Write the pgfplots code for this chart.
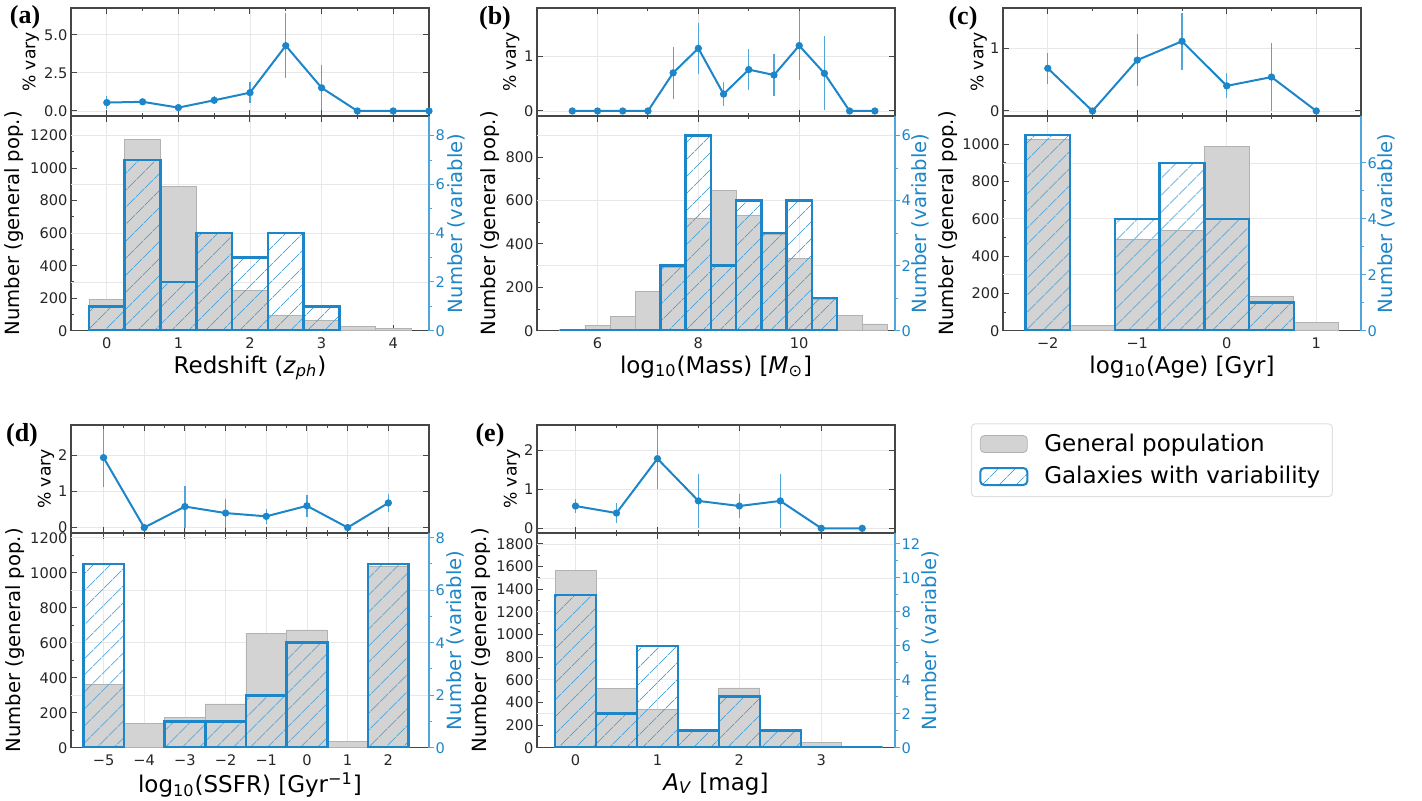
\documentclass[border=0pt]{standalone}
\usepackage{fontspec}
\setmainfont{DejaVu Sans}
\newfontfamily\panelfont{Liberation Serif}
\usepackage{pgfplots}
\pgfplotsset{compat=1.18}
\usetikzlibrary{patterns.meta}
\definecolor{vblue}{RGB}{28,134,200}
\definecolor{vbluelt}{RGB}{80,165,218}
\definecolor{gfill}{RGB}{211,211,211}
\definecolor{gedge}{RGB}{178,178,178}
\definecolor{framec}{RGB}{70,70,70}
\definecolor{gridc}{RGB}{232,232,232}

\pgfplotsset{
  base/.style={
    scale only axis, width=179pt,
    axis line style={framec, line width=0.6pt},
    tick style={framec, line width=0.5pt},
    major tick length=3pt, minor tick length=1.7pt,
    tick align=inside,
    /pgf/number format/assume math mode=true,
    /pgf/number format/1000 sep={},
    tick label style={font=\fontsize{7.3}{8}\selectfont, text=black!85},
    yticklabel style={inner xsep=1.6pt},
    grid style={gridc, line width=0.4pt},
    xmajorgrids,
    minor x tick num=1,
  },
  toppanel/.style={base, height=54pt, xticklabels={}, ymajorgrids,
    ylabel={\% vary},
    ylabel style={font=\fontsize{8.6}{10}\selectfont, at={(axis description cs:#1,0.5)}, anchor=center},
  },
  botleft/.style={base, height=107.35pt, ymin=0, ytick pos=left,
    minor y tick num=1,
    ylabel={Number (general pop.)},
    ylabel style={font=\fontsize{9.8}{11}\selectfont, at={(axis description cs:#1,0.5)}, anchor=center},
    xlabel style={font=\fontsize{11.5}{13}\selectfont, yshift=3.5pt},
    extra y tick labels={},
    extra y tick style={grid=major, major tick length=0pt},
  },
  botright/.style={scale only axis, width=179pt, height=107.35pt,
    axis x line=none, axis y line*=right, ymin=0,
    y axis line style={vbluelt, line width=0.6pt},
    ytick style={vbluelt, line width=0.5pt},
    tick align=outside, major tick length=2.5pt, minor tick length=1.5pt,
    minor y tick num=1,
    /pgf/number format/assume math mode=true,
    yticklabel style={font=\fontsize{7.3}{8}\selectfont, text=vblue, inner xsep=0.6pt},
    ylabel={Number (variable)},
    ylabel style={font=\fontsize{9.8}{11}\selectfont, text=vblue, at={(axis description cs:#1,0.5)}, anchor=center},
  },
  vline/.style={vblue, line width=1pt, mark=*, mark size=1.3pt,
    mark options={fill=vblue, draw=vblue, solid},
    error bars/.cd, y dir=both, y explicit, error mark=none,
    error bar style={vbluelt, line width=0.6pt}},
  gbar/.style={ybar, bar shift=0pt, fill=gfill, draw=gedge, line width=0.4pt},
  hbar/.style={ybar, bar shift=0pt, draw=vblue, line width=1.3pt,
    pattern={Lines[angle=45,distance=6.5pt,line width=0.45pt]},
    pattern color=vbluelt},
}

\begin{document}
\begin{tikzpicture}

% ================= (a) =================
\begin{axis}[toppanel=-0.112, at={(35.5pt,342pt)}, anchor=south west,
  xmin=-0.5, xmax=4.5, ymin=-0.33, ymax=6.75,
  xtick={0,1,2,3,4}, ytick={0,2.5,5}, yticklabels={0.0,2.5,5.0}]
\addplot[vline] coordinates {
 (0,0.55) +- (0,0.45) (0.5,0.6) +- (0,0.12) (1,0.22) +- (0,0.1)
 (1.5,0.7) +- (0,0.25) (2,1.2) +- (0,0.7) (2.5,4.28) +- (0,2.15)
 (3,1.52) +- (0,1.48) (3.5,0) +- (0,0) (4,0) +- (0,0) (4.5,0) +- (0,0)};
\end{axis}
\begin{axis}[botleft=-0.159, at={(35.5pt,234.65pt)}, anchor=south west,
  xmin=-0.5, xmax=4.5, ymax=1321,
  xtick={0,1,2,3,4}, ytick={0,200,...,1200},
  extra y ticks={300,600,900,1200},
  xlabel={Redshift (\textit{z}\textsubscript{\textit{ph}})}]
\addplot[gbar, bar width=0.5] coordinates {
 (0,190) (0.5,1175) (1,890) (1.5,600) (2,250) (2.5,95) (3,65) (3.5,25) (4,15)};
\end{axis}
\begin{axis}[botright=1.077, at={(35.5pt,234.65pt)}, anchor=south west,
  xmin=-0.5, xmax=4.5, ymax=8.807, ytick={0,2,4,6,8}]
\addplot[hbar, bar width=0.5] coordinates {
 (0,1) (0.5,7) (1,2) (1.5,4) (2,3) (2.5,4) (3,1)};
\end{axis}

% ================= (b) =================
\begin{axis}[toppanel=-0.072, at={(268.5pt,342pt)}, anchor=south west,
  xmin=4.8, xmax=11.9, ymin=-0.092, ymax=1.89,
  xtick={6,8,10}, ytick={0,1}]
\addplot[vline] coordinates {
 (5.5,0) +- (0,0) (6,0) +- (0,0) (6.5,0) +- (0,0) (7,0) +- (0,0)
 (7.5,0.7) +- (0,0.48) (8,1.15) +- (0,0.47) (8.5,0.31) +- (0,0.22)
 (9,0.76) +- (0,0.38) (9.5,0.66) +- (0,0.38) (10,1.2) +- (0,0.63)
 (10.5,0.69) +- (0,0.68) (11,0) +- (0,0) (11.5,0) +- (0,0)};
\end{axis}
\begin{axis}[botleft=-0.13, at={(268.5pt,234.65pt)}, anchor=south west,
  xmin=4.8, xmax=11.9, ymax=990,
  xtick={6,8,10}, ytick={0,200,...,800},
  extra y ticks={300,600,900},
  xlabel={log\textsubscript{10}(Mass) [\textit{M}\textsubscript{⊙}]}]
\addplot[gbar, bar width=0.5] coordinates {
 (5.5,3) (6,26) (6.5,65) (7,183) (7.5,290) (8,520) (8.5,645) (9,530)
 (9.5,445) (10,334) (10.5,143) (11,69) (11.5,31)};
\end{axis}
\begin{axis}[botright=1.071, at={(268.5pt,234.65pt)}, anchor=south west,
  xmin=4.8, xmax=11.9, ymax=6.6, ytick={0,2,4,6}]
\addplot[hbar, bar width=0.5] coordinates {
 (5.5,0) (6,0) (6.5,0) (7,0) (7.5,2) (8,6) (8.5,2) (9,4) (9.5,3) (10,4) (10.5,1)};
\end{axis}

% ================= (c) =================
\begin{axis}[toppanel=-0.068, at={(501.5pt,342pt)}, anchor=south west,
  xmin=-2.5, xmax=1.5, ymin=-0.08, ymax=1.64,
  xtick={-2,-1,0,1}, ytick={0,1}]
\addplot[vline] coordinates {
 (-2,0.68) +- (0,0.25) (-1.5,0) +- (0,0) (-1,0.81) +- (0,0.41)
 (-0.5,1.11) +- (0,0.45) (0,0.40) +- (0,0.2) (0.5,0.54) +- (0,0.54) (1,0) +- (0,0)};
\end{axis}
\begin{axis}[botleft=-0.153, at={(501.5pt,234.65pt)}, anchor=south west,
  xmin=-2.5, xmax=1.5, ymax=1152,
  xtick={-2,-1,0,1}, xticklabels={−2,−1,0,1}, ytick={0,200,...,1000},
  extra y ticks={300,600,900},
  xlabel={log\textsubscript{10}(Age) [Gyr]}]
\addplot[gbar, bar width=0.5] coordinates {
 (-2,1025) (-1.5,30) (-1,490) (-0.5,540) (0,988) (0.5,186) (1,43)};
\end{axis}
\begin{axis}[botright=1.071, at={(501.5pt,234.65pt)}, anchor=south west,
  xmin=-2.5, xmax=1.5, ymax=7.68, ytick={0,2,4,6}]
\addplot[hbar, bar width=0.5] coordinates {
 (-2,7) (-1,4) (-0.5,6) (0,4) (0.5,1)};
\end{axis}

% ================= (d) =================
\begin{axis}[toppanel=-0.07, at={(35.5pt,133.5pt)}, anchor=south west,
  xmin=-5.8, xmax=3.0, ymin=-0.15, ymax=2.83,
  xtick={-5,...,2}, ytick={0,1,2}]
\addplot[vline] coordinates {
 (-5,1.93) +- (0,0.8) (-4,0) +- (0,0) (-3,0.58) +- (0,0.58)
 (-2,0.4) +- (0,0.4) (-1,0.31) +- (0,0.21) (0,0.6) +- (0,0.3)
 (1,0) +- (0,0) (2,0.68) +- (0,0.24)};
\end{axis}
\begin{axis}[botleft=-0.156, at={(35.5pt,26.15pt)}, anchor=south west,
  xmin=-5.8, xmax=3.0, ymax=1227,
  xtick={-5,...,2}, xticklabels={−5,−4,−3,−2,−1,0,1,2}, ytick={0,200,...,1200},
  extra y ticks={300,600,900,1200},
  xlabel={log\textsubscript{10}(SSFR) [Gyr\textsuperscript{−1}]}]
\addplot[gbar, bar width=1] coordinates {
 (-5,364) (-4,139) (-3,173) (-2,250) (-1,654) (0,673) (1,34) (2,1034)};
\end{axis}
\begin{axis}[botright=1.075, at={(35.5pt,26.15pt)}, anchor=south west,
  xmin=-5.8, xmax=3.0, ymax=8.18, ytick={0,2,4,6,8}]
\addplot[hbar, bar width=1] coordinates {
 (-5,7) (-3,1) (-2,1) (-1,2) (0,4) (2,7)};
\end{axis}

% ================= (e) =================
\begin{axis}[toppanel=-0.07, at={(268.5pt,133.5pt)}, anchor=south west,
  xmin=-0.47, xmax=3.9, ymin=-0.12, ymax=2.64,
  xtick={0,1,2,3}, ytick={0,1,2}]
\addplot[vline] coordinates {
 (0,0.57) +- (0,0.18) (0.5,0.39) +- (0,0.26) (1,1.78) +- (0,0.77)
 (1.5,0.7) +- (0,0.68) (2,0.57) +- (0,0.31) (2.5,0.7) +- (0,0.69)
 (3,0) +- (0,0) (3.5,0) +- (0,0)};
\end{axis}
\begin{axis}[botleft=-0.155, at={(268.5pt,26.15pt)}, anchor=south west,
  xmin=-0.47, xmax=3.9, ymax=1897,
  xtick={0,1,2,3}, ytick={0,200,...,1800},
  extra y ticks={300,600,...,1800},
  xlabel={\textit{A}\textsubscript{\textit{V}} [mag]}]
\addplot[gbar, bar width=0.5] coordinates {
 (0,1565) (0.5,520) (1,337) (1.5,143) (2,528) (2.5,143) (3,50) (3.5,4)};
\end{axis}
\begin{axis}[botright=1.1, at={(268.5pt,26.15pt)}, anchor=south west,
  xmin=-0.47, xmax=3.9, ymax=12.647, ytick={0,2,...,12},
  legend style={at={(axis description cs:1.2117,1.511)}, anchor=north west,
    draw=black!12, rounded corners=2pt, line width=0.5pt,
    font=\fontsize{11.5}{13}\selectfont,
    inner xsep=4pt, inner ysep=3pt, row sep=2pt,
    /tikz/every odd column/.style={column sep=6pt}},
  legend cell align=left]
\addlegendimage{legend image code/.code={\draw[fill=gfill, draw=gedge, line width=0.4pt] (0pt,-4.25pt) rectangle (23.5pt,4.25pt);}}
\addlegendentry{General population}
\addlegendimage{legend image code/.code={\draw[draw=vblue, line width=1pt, pattern={Lines[angle=45,distance=6.5pt,line width=0.45pt]}, pattern color=vbluelt] (0pt,-4.25pt) rectangle (23.5pt,4.25pt);}}
\addlegendentry{Galaxies with variability}
\addplot[hbar, bar width=0.5, forget plot] coordinates {
 (0,9) (0.5,2) (1,6) (1.5,1) (2,3) (2.5,1) (3,0) (3.5,0)};
\end{axis}

% panel letters
\node[font=\panelfont\bfseries\fontsize{13}{14}\selectfont] at (12.5pt,391.5pt) {(a)};
\node[font=\panelfont\bfseries\fontsize{13}{14}\selectfont] at (247.5pt,391pt) {(b)};
\node[font=\panelfont\bfseries\fontsize{13}{14}\selectfont] at (481.5pt,391pt) {(c)};
\node[font=\panelfont\bfseries\fontsize{13}{14}\selectfont] at (11pt,182.5pt) {(d)};
\node[font=\panelfont\bfseries\fontsize{13}{14}\selectfont] at (245pt,182.5pt) {(e)};

\pgfresetboundingbox
\path[use as bounding box] (0,0) rectangle (711pt,400pt);
\end{tikzpicture}
\end{document}
